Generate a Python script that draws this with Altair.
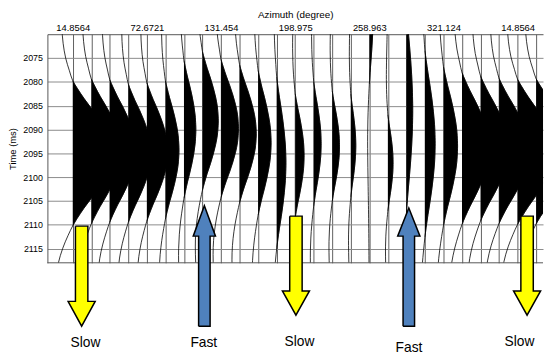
import altair as alt
import pandas as pd

# ---- data ----
TRACE_IDX = list(range(26))
LABEL_TRACES = [0, 4, 8, 12, 16, 20, 24]
AZIMUTH_LABELS = ["14.8564", "72.6721", "131.454", "198.975", "258.963", "321.124", "14.8564"]

# normalised wavelet shape (time offset in ms, relative amplitude)
TAU = [-60, -48, -40, -36, -32, -28, -25, -22, -19, -16.5, -14.5, -13, -11, -9, -7, -5, -3, -1, 0,
       1, 3, 5, 7, 9, 11, 13, 14.5, 16.5, 19, 22, 25, 28, 32, 36, 40, 48, 60]
WAV = [-0.04, -0.08, -0.13, -0.18, -0.24, -0.28, -0.29, -0.26, -0.19, -0.09, 0.0, 0.12, 0.30, 0.50, 0.68,
       0.83, 0.94, 0.99, 1.0,
       0.99, 0.94, 0.83, 0.68, 0.50, 0.30, 0.12, 0.0, -0.13, -0.27, -0.39, -0.45, -0.45, -0.40, -0.32,
       -0.24, -0.12, -0.05]

# per-trace peak time (ms), amplitude (in trace spacings), time stretch
PEAK_T = [2095.0, 2094.6, 2094.5, 2095.0, 2094.7, 2094.3, 2090.0, 2088.2, 2089.8, 2090.9, 2092.8, 2097.0, 2095.5,
          2093.0, 2093.5, 2093.4, 2066.0, 2097.0, 2086.0, 2093.0, 2093.5, 2094.0, 2094.0, 2094.5, 2094.7, 2094.6]
AMP = [2.0, 1.6, 1.4, 1.22, 1.12, 0.73, 0.64, 0.85, 0.94, 0.90, 0.70, 0.50, 0.48,
       0.40, 0.39, 0.27, 0.20, 0.28, 0.34, 0.55, 0.76, 1.45, 1.5, 1.6, 1.9, 2.0]
STRETCH = [1.05, 1.05, 1.03, 1, 1, 1, 1, 1, 1, 1, 1.05, 1.25, 0.9,
           0.9, 0.8, 0.75, 1, 0.7, 1.5, 1.35, 1.15, 1.1, 1.05, 1.05, 1.05, 1.05]

Y_TICKS = [2075, 2080, 2085, 2090, 2095, 2100, 2105, 2110, 2115]

# annotation arrows: centre trace, kind, start, head base, tip (ms)
ARROW_X = [0.48, 7.10, 12.04, 18.13, 24.51]
ARROW_KIND = ["Slow", "Fast", "Slow", "Fast", "Slow"]
ARROW_START = [2110.3, 2131.3, 2108.2, 2131.3, 2108.2]
ARROW_BASE = [2126.1, 2112.4, 2123.9, 2112.4, 2123.9]
ARROW_TIP = [2131.3, 2106.0, 2129.0, 2106.5, 2129.0]
ARROW_SHAFT = [0.335, 0.31, 0.335, 0.31, 0.335]
ARROW_HEAD = [0.73, 0.60, 0.73, 0.60, 0.73]
ARROW_FILL = {"Slow": "#FFFF00", "Fast": "#4F81BD"}

TEXT_X = [0.69, 7.07, 12.23, 18.14, 24.10]
TEXT_T = [2134.8, 2134.8, 2134.6, 2135.9, 2134.6]

# ---- build tables ----
line_rows, fill_rows = [], []
for k in TRACE_IDX:
    for j, (tau, w) in enumerate(zip(TAU, WAV)):
        t = PEAK_T[k] + STRETCH[k] * tau
        line_rows.append({"trace": k, "j": j, "t": t, "x": k + AMP[k] * w})
        if w >= 0 and abs(tau) <= 14.5:
            fill_rows.append({"trace": k, "j": j, "t": t, "x": k + AMP[k] * w})
line_df = pd.DataFrame(line_rows)
fill_df = pd.DataFrame(fill_rows)

arrow_rows = []
for i, c in enumerate(ARROW_X):
    sw, hw = ARROW_SHAFT[i], ARROW_HEAD[i]
    s, b, tip = ARROW_START[i], ARROW_BASE[i], ARROW_TIP[i]
    pts = [(c - sw, s), (c - sw, b), (c - hw, b), (c, tip), (c + hw, b), (c + sw, b), (c + sw, s), (c - sw, s)]
    for j, (x, t) in enumerate(pts):
        arrow_rows.append({"arrow": i, "kind": ARROW_KIND[i], "j": j, "t": t, "x": x})
arrow_df = pd.DataFrame(arrow_rows)

text_df = pd.DataFrame({"x": TEXT_X, "t": TEXT_T, "label": ARROW_KIND})

# ---- scales / axes ----
xs = alt.Scale(domain=[-1.367, 25.37], nice=False, zero=False)
ys = alt.Scale(domain=[2070, 2118], reverse=True, nice=False, zero=False)

expr = ""
for v, lab in zip(LABEL_TRACES, AZIMUTH_LABELS):
    expr += f"datum.value == {v} ? '{lab}' : "
expr += "''"

FONT = "Liberation Sans"
x_axis = alt.Axis(orient="top", values=TRACE_IDX, grid=True, gridColor="#606060", gridWidth=1,
                  ticks=False, tickSize=0, domainColor="#555555", labelExpr=expr,
                  labelOverlap=False, labelFlush=False, labelFontSize=9.5, labelPadding=2,
                  labelColor="black", title="Azimuth (degree)", titleFontSize=10,
                  titleFontWeight="normal", titlePadding=3, titleColor="black")
y_axis = alt.Axis(values=Y_TICKS, format="d", grid=True, gridColor="#8a8a8a", gridWidth=1, ticks=False,
                  tickSize=0, labelPadding=5, labelFontSize=9, labelColor="black", labelOverlap=False,
                  labelSeparation=0, labelBound=False,
                  domainColor="#555555", title="Time (ms)", titleFontSize=9.5,
                  titleFontWeight="normal", titlePadding=5, titleColor="black")

lines = alt.Chart(line_df).mark_line(color="black", strokeWidth=0.8, interpolate="catmull-rom",
                                      clip=True).encode(
    x=alt.X("x:Q", scale=xs, axis=x_axis),
    y=alt.Y("t:Q", scale=ys, axis=y_axis),
    detail="trace:N",
    order="j:Q",
)

fills = alt.Chart(fill_df).mark_line(stroke="black", strokeWidth=0.5, fill="black",
                                     interpolate="catmull-rom", clip=True).encode(
    x=alt.X("x:Q", scale=xs, axis=x_axis),
    y=alt.Y("t:Q", scale=ys, axis=y_axis),
    detail="trace:N",
    order="j:Q",
)

bottom = alt.Chart(pd.DataFrame({"t": [2118]})).mark_rule(color="#555555", strokeWidth=1).encode(
    y=alt.Y("t:Q", scale=ys, axis=y_axis)
)


def arrow_layer(kind):
    return alt.Chart(arrow_df[arrow_df["kind"] == kind]).mark_line(
        stroke="black", strokeWidth=1.5, fill=ARROW_FILL[kind], interpolate="linear",
        strokeJoin="miter", clip=False).encode(
        x=alt.X("x:Q", scale=xs, axis=x_axis),
        y=alt.Y("t:Q", scale=ys, axis=y_axis),
        detail="arrow:N",
        order="j:Q",
    )


texts = alt.Chart(text_df).mark_text(font=FONT, fontSize=14, color="black", baseline="middle").encode(
    x=alt.X("x:Q", scale=xs, axis=x_axis),
    y=alt.Y("t:Q", scale=ys, axis=y_axis),
    text="label:N",
)

chart = alt.layer(lines, fills, bottom, arrow_layer("Slow"), arrow_layer("Fast"), texts).properties(
    width=503, height=232,
    autosize=alt.AutoSizeParams(type="none"),
    padding={"left": 40, "top": 24, "right": 1, "bottom": 93},
).configure_view(stroke=None).configure_axis(labelFont=FONT, titleFont=FONT, labelOverlap=False)

chart.save("out.html", embed_options={"renderer": "svg", "actions": False})
